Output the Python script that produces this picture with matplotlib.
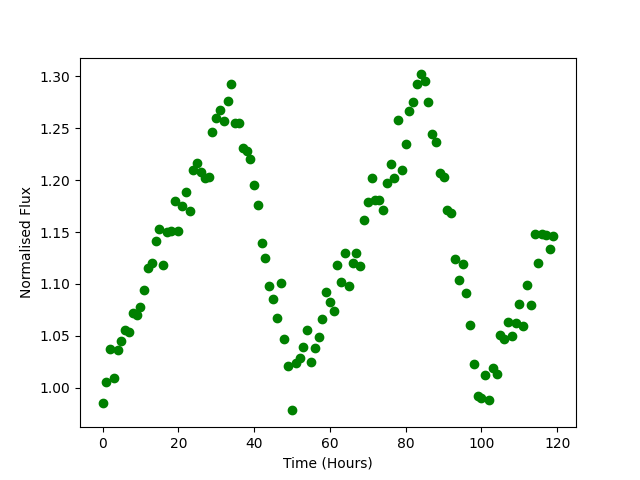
import numpy as np
import matplotlib
matplotlib.use("Agg")
import matplotlib.pyplot as plt

time_hours = list(range(120))
flux = [
    0.985, 1.005, 1.037, 1.009, 1.036, 1.045, 1.056, 1.054, 1.072, 1.070,
    1.078, 1.094, 1.115, 1.120, 1.141, 1.153, 1.118, 1.150, 1.151, 1.180,
    1.151, 1.175, 1.189, 1.170, 1.210, 1.217, 1.208, 1.202, 1.203, 1.246,
    1.260, 1.268, 1.257, 1.276, 1.293, 1.255, 1.255, 1.231, 1.228, 1.220,
    1.195, 1.176, 1.139, 1.125, 1.098, 1.085, 1.067, 1.101, 1.047, 1.021,
    0.978, 1.024, 1.029, 1.039, 1.056, 1.025, 1.038, 1.049, 1.066, 1.092,
    1.083, 1.074, 1.118, 1.102, 1.130, 1.098, 1.120, 1.130, 1.117, 1.162,
    1.179, 1.202, 1.181, 1.181, 1.171, 1.197, 1.216, 1.202, 1.258, 1.210,
    1.235, 1.267, 1.275, 1.293, 1.302, 1.296, 1.275, 1.245, 1.237, 1.207,
    1.203, 1.171, 1.168, 1.124, 1.104, 1.119, 1.091, 1.060, 1.023, 0.992,
    0.990, 1.012, 0.988, 1.019, 1.013, 1.051, 1.047, 1.063, 1.050, 1.062,
    1.081, 1.059, 1.099, 1.080, 1.148, 1.120, 1.148, 1.147, 1.134, 1.146,
]

fig, ax = plt.subplots(figsize=(6.4, 4.8), dpi=100)
ax.plot(time_hours, flux, 'go')
ax.set_xlabel('Time (Hours)')
ax.set_ylabel('Normalised Flux')
fig.savefig('out.png')
